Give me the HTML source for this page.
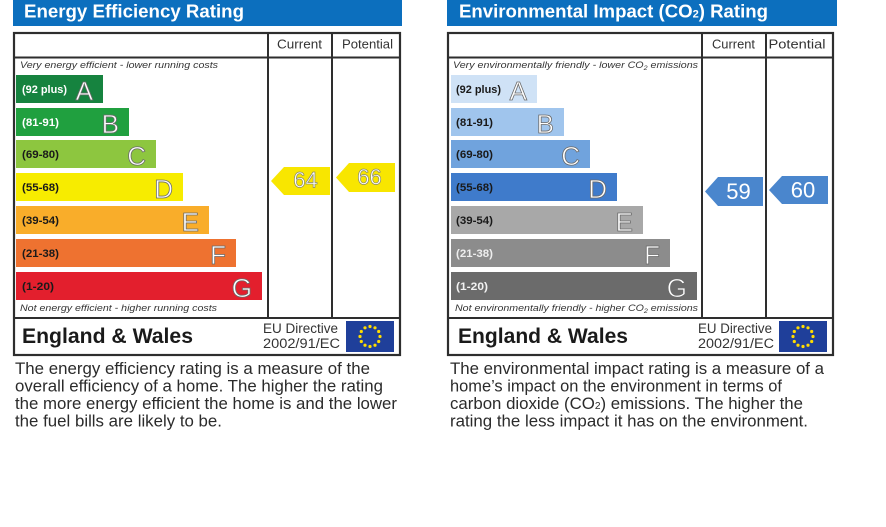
<!DOCTYPE html>
<html><head><meta charset="utf-8"><style>
html,body{margin:0;padding:0;background:#fff;}
svg{display:block;}
</style></head><body>
<svg width="886" height="527" viewBox="0 0 886 527" xmlns="http://www.w3.org/2000/svg" font-family="'Liberation Sans', Arial, sans-serif">
<rect width="886" height="527" fill="#fff"/>

<!-- ============ LEFT CHART ============ -->
<rect x="13" y="0" width="389" height="26" fill="#0c6fbe"/>
<text x="24" y="17.5" font-size="18.5" font-weight="bold" fill="#fff" textLength="220" lengthAdjust="spacingAndGlyphs">Energy Efficiency Rating</text>

<rect x="14" y="33" width="386" height="322" fill="none" stroke="#2e2e2e" stroke-width="2.2"/>
<line x1="14" y1="57.5" x2="400" y2="57.5" stroke="#2e2e2e" stroke-width="2"/>
<line x1="268" y1="33" x2="268" y2="318" stroke="#2e2e2e" stroke-width="2"/>
<line x1="332" y1="33" x2="332" y2="318" stroke="#2e2e2e" stroke-width="2"/>
<line x1="14" y1="318" x2="400" y2="318" stroke="#2e2e2e" stroke-width="2"/>

<text x="299.5" y="48.5" font-size="13" fill="#333" text-anchor="middle" textLength="45" lengthAdjust="spacingAndGlyphs">Current</text>
<text x="367.5" y="48.5" font-size="13" fill="#333" text-anchor="middle" textLength="51" lengthAdjust="spacingAndGlyphs">Potential</text>

<text x="20" y="68" font-size="9" font-style="italic" fill="#333" textLength="198" lengthAdjust="spacingAndGlyphs">Very energy efficient - lower running costs</text>

<g font-weight="bold" font-size="11">
<rect x="16" y="75" width="87" height="28" fill="#16833f"/>
<text x="22" y="93" fill="#fff" textLength="45" lengthAdjust="spacingAndGlyphs">(92 plus)</text>
<rect x="16" y="108" width="113" height="28" fill="#20a03f"/>
<text x="22" y="126" fill="#fff" textLength="37" lengthAdjust="spacingAndGlyphs">(81-91)</text>
<rect x="16" y="140" width="140" height="28" fill="#8dc63f"/>
<text x="22" y="158" fill="#1a1a1a" textLength="37" lengthAdjust="spacingAndGlyphs">(69-80)</text>
<rect x="16" y="173" width="167" height="28" fill="#f7ec00"/>
<text x="22" y="191" fill="#1a1a1a" textLength="37" lengthAdjust="spacingAndGlyphs">(55-68)</text>
<rect x="16" y="206" width="193" height="28" fill="#f9ad2a"/>
<text x="22" y="224" fill="#1a1a1a" textLength="37" lengthAdjust="spacingAndGlyphs">(39-54)</text>
<rect x="16" y="239" width="220" height="28" fill="#ee7230"/>
<text x="22" y="257" fill="#1a1a1a" textLength="37" lengthAdjust="spacingAndGlyphs">(21-38)</text>
<rect x="16" y="272" width="246" height="28" fill="#e31f2d"/>
<text x="22" y="290" fill="#1a1a1a" textLength="32" lengthAdjust="spacingAndGlyphs">(1-20)</text>
</g>
<g font-size="26" fill="#fff" stroke="#6b6b6b" stroke-width="0.8" text-anchor="end">
<text x="93" y="100">A</text>
<text x="119" y="133">B</text>
<text x="146" y="165">C</text>
<text x="173" y="198">D</text>
<text x="199" y="231">E</text>
<text x="226" y="264">F</text>
<text x="252" y="297">G</text>
</g>

<text x="20" y="311" font-size="9" font-style="italic" fill="#333" textLength="197" lengthAdjust="spacingAndGlyphs">Not energy efficient - higher running costs</text>

<polygon points="271,181 284,167 330,167 330,195 284,195" fill="#f8e600"/>
<text x="305.5" y="187.5" font-size="22" fill="#fff" stroke="#8a8a6a" stroke-width="0.7" text-anchor="middle">64</text>
<polygon points="336,177.5 349,163 395,163 395,192 349,192" fill="#f8e600"/>
<text x="369.5" y="184.5" font-size="22" fill="#fff" stroke="#8a8a6a" stroke-width="0.7" text-anchor="middle">66</text>

<text x="22" y="343" font-size="21" font-weight="bold" fill="#1a1a1a" textLength="171" lengthAdjust="spacingAndGlyphs">England &amp; Wales</text>
<text x="263" y="333" font-size="13.5" fill="#333" textLength="75" lengthAdjust="spacingAndGlyphs">EU Directive</text>
<text x="263" y="348" font-size="13.5" fill="#333" textLength="77" lengthAdjust="spacingAndGlyphs">2002/91/EC</text>
<rect x="346" y="321" width="48" height="31" fill="#1f3f9a"/>
<g fill="#ffdc00">
<circle cx="370" cy="326.5" r="1.6"/><circle cx="375" cy="327.8" r="1.6"/><circle cx="378.7" cy="331.5" r="1.6"/>
<circle cx="380" cy="336.5" r="1.6"/><circle cx="378.7" cy="341.5" r="1.6"/><circle cx="375" cy="345.2" r="1.6"/>
<circle cx="370" cy="346.5" r="1.6"/><circle cx="365" cy="345.2" r="1.6"/><circle cx="361.3" cy="341.5" r="1.6"/>
<circle cx="360" cy="336.5" r="1.6"/><circle cx="361.3" cy="331.5" r="1.6"/><circle cx="365" cy="327.8" r="1.6"/>
</g>

<g font-size="16.5" fill="#2b2b2b">
<text x="15" y="374" textLength="355" lengthAdjust="spacingAndGlyphs">The energy efficiency rating is a measure of the</text>
<text x="15" y="391.5" textLength="368" lengthAdjust="spacingAndGlyphs">overall efficiency of a home. The higher the rating</text>
<text x="15" y="409" textLength="382" lengthAdjust="spacingAndGlyphs">the more energy efficient the home is and the lower</text>
<text x="15" y="426.5" textLength="207" lengthAdjust="spacingAndGlyphs">the fuel bills are likely to be.</text>
</g>

<!-- ============ RIGHT CHART ============ -->
<rect x="447" y="0" width="390" height="26" fill="#0c6fbe"/>
<text x="459" y="17.5" font-size="18.5" font-weight="bold" fill="#fff" textLength="309" lengthAdjust="spacingAndGlyphs">Environmental Impact (CO<tspan font-size="11">2</tspan>) Rating</text>

<rect x="448" y="33" width="385" height="322" fill="none" stroke="#2e2e2e" stroke-width="2.2"/>
<line x1="448" y1="57.5" x2="833" y2="57.5" stroke="#2e2e2e" stroke-width="2"/>
<line x1="702" y1="33" x2="702" y2="318" stroke="#2e2e2e" stroke-width="2"/>
<line x1="766" y1="33" x2="766" y2="318" stroke="#2e2e2e" stroke-width="2"/>
<line x1="448" y1="318" x2="833" y2="318" stroke="#2e2e2e" stroke-width="2"/>

<text x="733.5" y="48.5" font-size="13" fill="#333" text-anchor="middle" textLength="43" lengthAdjust="spacingAndGlyphs">Current</text>
<text x="797" y="48.5" font-size="13" fill="#333" text-anchor="middle" textLength="57" lengthAdjust="spacingAndGlyphs">Potential</text>

<text x="453" y="68" font-size="9" font-style="italic" fill="#333" textLength="245" lengthAdjust="spacingAndGlyphs">Very environmentally friendly - lower CO<tspan font-size="6" dy="2">2</tspan><tspan dy="-2"> emissions</tspan></text>

<g font-weight="bold" font-size="11">
<rect x="451" y="75" width="86" height="28" fill="#cfe2f6"/>
<text x="456" y="93" fill="#1a1a1a" textLength="45" lengthAdjust="spacingAndGlyphs">(92 plus)</text>
<rect x="451" y="108" width="113" height="28" fill="#a0c5ed"/>
<text x="456" y="126" fill="#1a1a1a" textLength="37" lengthAdjust="spacingAndGlyphs">(81-91)</text>
<rect x="451" y="140" width="139" height="28" fill="#70a3dd"/>
<text x="456" y="158" fill="#1a1a1a" textLength="37" lengthAdjust="spacingAndGlyphs">(69-80)</text>
<rect x="451" y="173" width="166" height="28" fill="#3f7bcb"/>
<text x="456" y="191" fill="#1a1a1a" textLength="37" lengthAdjust="spacingAndGlyphs">(55-68)</text>
<rect x="451" y="206" width="192" height="28" fill="#a8a8a8"/>
<text x="456" y="224" fill="#1a1a1a" textLength="37" lengthAdjust="spacingAndGlyphs">(39-54)</text>
<rect x="451" y="239" width="219" height="28" fill="#8c8c8c"/>
<text x="456" y="257" fill="#eeeeee" textLength="37" lengthAdjust="spacingAndGlyphs">(21-38)</text>
<rect x="451" y="272" width="246" height="28" fill="#6b6b6b"/>
<text x="456" y="290" fill="#f2f2f2" textLength="32" lengthAdjust="spacingAndGlyphs">(1-20)</text>
</g>
<g font-size="26" fill="#fff" stroke="#6b6b6b" stroke-width="0.8" text-anchor="end">
<text x="527" y="100">A</text>
<text x="554" y="133">B</text>
<text x="580" y="165">C</text>
<text x="607" y="198">D</text>
<text x="633" y="231">E</text>
<text x="660" y="264">F</text>
<text x="687" y="297">G</text>
</g>

<text x="455" y="311" font-size="9" font-style="italic" fill="#333" textLength="243" lengthAdjust="spacingAndGlyphs">Not environmentally friendly - higher CO<tspan font-size="6" dy="2">2</tspan><tspan dy="-2"> emissions</tspan></text>

<polygon points="705,191.5 718,177 763,177 763,206 718,206" fill="#4a86cd"/>
<text x="738.5" y="199" font-size="22" fill="#fff" text-anchor="middle">59</text>
<polygon points="769,190 782,176 828,176 828,204 782,204" fill="#4a86cd"/>
<text x="803" y="197.5" font-size="22" fill="#fff" text-anchor="middle">60</text>

<text x="458" y="343" font-size="21" font-weight="bold" fill="#1a1a1a" textLength="170" lengthAdjust="spacingAndGlyphs">England &amp; Wales</text>
<text x="698" y="333" font-size="13.5" fill="#333" textLength="74" lengthAdjust="spacingAndGlyphs">EU Directive</text>
<text x="698" y="348" font-size="13.5" fill="#333" textLength="76" lengthAdjust="spacingAndGlyphs">2002/91/EC</text>
<rect x="779" y="321" width="48" height="31" fill="#1f3f9a"/>
<g fill="#ffdc00">
<circle cx="803" cy="326.5" r="1.6"/><circle cx="808" cy="327.8" r="1.6"/><circle cx="811.7" cy="331.5" r="1.6"/>
<circle cx="813" cy="336.5" r="1.6"/><circle cx="811.7" cy="341.5" r="1.6"/><circle cx="808" cy="345.2" r="1.6"/>
<circle cx="803" cy="346.5" r="1.6"/><circle cx="798" cy="345.2" r="1.6"/><circle cx="794.3" cy="341.5" r="1.6"/>
<circle cx="793" cy="336.5" r="1.6"/><circle cx="794.3" cy="331.5" r="1.6"/><circle cx="798" cy="327.8" r="1.6"/>
</g>

<g font-size="16.5" fill="#2b2b2b">
<text x="450" y="374" textLength="374" lengthAdjust="spacingAndGlyphs">The environmental impact rating is a measure of a</text>
<text x="450" y="391.5" textLength="332" lengthAdjust="spacingAndGlyphs">home’s impact on the environment in terms of</text>
<text x="450" y="409" textLength="353" lengthAdjust="spacingAndGlyphs">carbon dioxide (CO<tspan font-size="10">2</tspan>) emissions. The higher the</text>
<text x="450" y="426.5" textLength="358" lengthAdjust="spacingAndGlyphs">rating the less impact it has on the environment.</text>
</g>
</svg>
</body></html>
